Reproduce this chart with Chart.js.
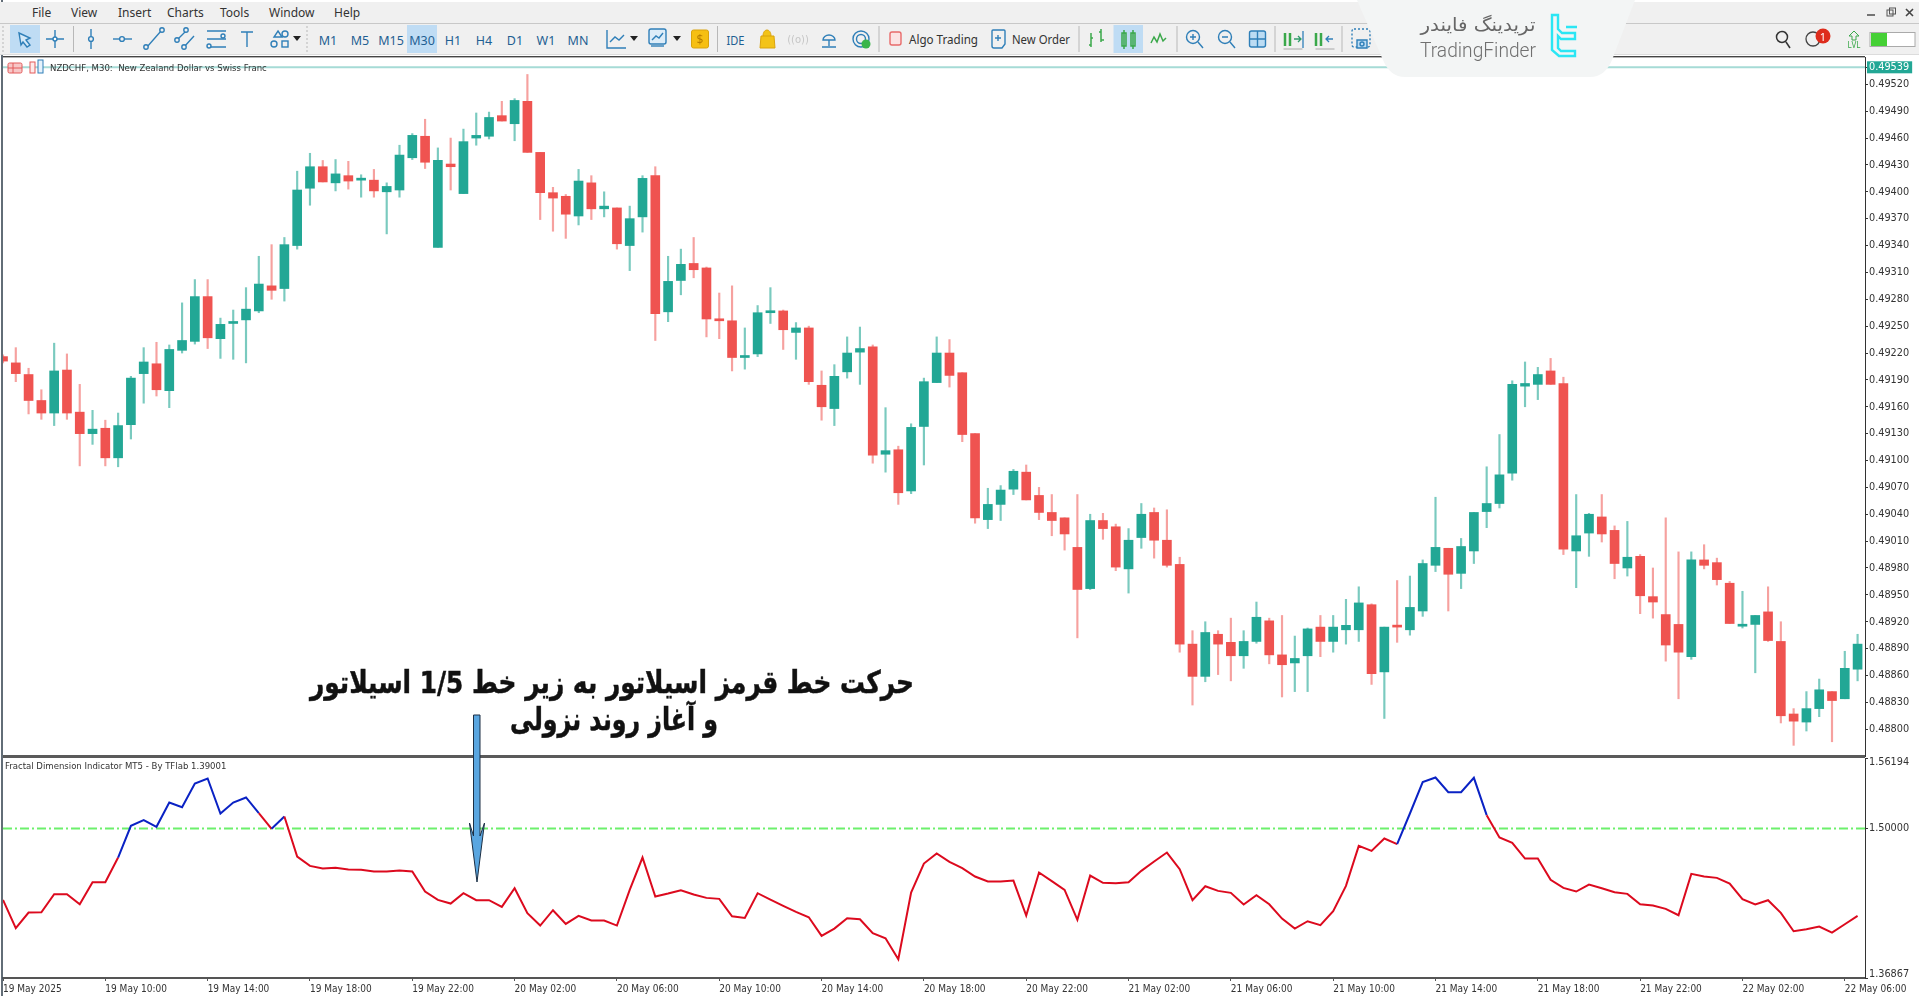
<!DOCTYPE html>
<html><head><meta charset="utf-8"><title>NZDCHF M30</title>
<script src="https://cdn.jsdelivr.net/npm/chart.js@4/dist/chart.umd.js"></script>
<style>
html,body{margin:0;padding:0;background:#fff;width:1919px;height:996px;overflow:hidden}
canvas{position:absolute;left:0}
svg{position:absolute;left:0;top:0}
.t{position:absolute;white-space:pre;font-family:"DejaVu Sans Condensed","DejaVu Sans";font-size:9.5px;color:#333}
</style></head><body>
<canvas id="price" width="1919" height="712" style="top:51px"></canvas>
<canvas id="osc" width="1919" height="251" style="top:746px"></canvas>
<div style="position:absolute;top:0;height:996px;background:#46545f;opacity:.85;left:1px;width:2px"></div>
<div style="position:absolute;left:3px;top:755px;width:1862px;height:3px;background:#5a5a5a"></div>
<div class="t" style="left:5px;top:760px">Fractal Dimension Indicator MT5 - By TFlab 1.39001</div>
<div class="t" style="left:50px;top:62px">NZDCHF, M30:  New Zealand Dollar vs Swiss Franc</div>
<svg width="1919" height="996" viewBox="0 0 1919 996" xmlns="http://www.w3.org/2000/svg">
 <!-- window chrome -->
 <rect x="0" y="2" width="1919" height="52" fill="#f0f0f0"/>
 <rect x="0" y="23" width="1919" height="1" fill="#c8c8c8"/>
 <rect x="0" y="54" width="1919" height="1" fill="#dcdcdc"/>
 <rect x="3" y="56" width="1862" height="1.4" fill="#444"/>
 <rect x="10" y="25" width="30" height="28" fill="#bfdcf4"/>
 <rect x="407" y="25" width="30" height="28" fill="#bfdcf4"/>
 <rect x="1113.5" y="25" width="29.5" height="28" fill="#bfdcf4"/>
 <g font-family="Noto Sans" font-size="12" fill="#333">
  <text x="32" y="17">File</text><text x="71" y="17">View</text><text x="118" y="17">Insert</text><text x="167" y="17">Charts</text><text x="220" y="17">Tools</text><text x="269" y="17">Window</text><text x="334" y="17">Help</text>
 </g>
 <g font-family="Noto Sans" font-size="12.5" fill="#1f5f92" text-anchor="middle">
  <text x="328" y="45">M1</text><text x="360" y="45">M5</text><text x="391" y="45">M15</text><text x="422" y="45">M30</text><text x="453" y="45">H1</text><text x="484" y="45">H4</text><text x="515" y="45">D1</text><text x="546" y="45">W1</text><text x="578" y="45">MN</text>
  <text x="735.5" y="45" font-size="13" textLength="18" lengthAdjust="spacingAndGlyphs">IDE</text>
 </g>
 <g font-family="Noto Sans" font-size="12" fill="#333">
  <text x="909" y="44" textLength="69" lengthAdjust="spacingAndGlyphs">Algo Trading</text>
  <text x="1012" y="44" textLength="58" lengthAdjust="spacingAndGlyphs">New Order</text>
 </g>
 <g stroke="#b8b8b8" stroke-width="1" fill="none">
  <path d="M73.5 26V52M717.5 26V52M879 26V52M1079 26V52M1177 26V52M1275 26V52M1342 26V52"/>
  <path d="M307 26V52M3 26V52" stroke-dasharray="2 2"/>
 </g>
 <!-- drawing tool icons -->
 <g stroke="#2f7fb8" stroke-width="1.4" fill="none">
  <path d="M19 33l11 5-4 2 4 5-3 2-4-5-2 3z" fill="#d4e8f7"/>
  <path d="M55 30V48M46 39H64"/><circle cx="55" cy="39" r="2" fill="#fff"/>
  <path d="M91 29V49"/><circle cx="91" cy="39" r="2.4" fill="#f0f0f0"/>
  <path d="M113 39H132"/><circle cx="122" cy="39" r="2.4" fill="#f0f0f0"/>
  <path d="M147 47L161 31"/><circle cx="146" cy="47" r="2.2" fill="#f0f0f0"/><circle cx="162" cy="30" r="2.2" fill="#f0f0f0"/>
  <path d="M178 39L187 30M184 47L194 36"/><circle cx="177" cy="40" r="2.2" fill="#f0f0f0"/><circle cx="186" cy="30" r="2.2" fill="#f0f0f0"/><circle cx="184" cy="47" r="2.2" fill="#f0f0f0"/>
  <path d="M207 31H226M207 39H226M207 47H226"/><circle cx="223" cy="36" r="2" fill="#f0f0f0"/><circle cx="209" cy="46" r="2" fill="#f0f0f0"/>
  <path d="M241 32H253M247 32V47"/>
  <path d="M278 31l4 6h-8z"/><circle cx="285" cy="34" r="3"/><circle cx="274" cy="44" r="3"/><rect x="282" y="41" width="6" height="6"/>
 </g>
 <path d="M293 36h8l-4 5z" fill="#222"/>
 <!-- chart-type and other toolbar icons -->
 <g stroke="#2f7fb8" stroke-width="1.4" fill="none">
  <path d="M607 30V48H626"/><path d="M610 42l5-5 4 3 5-5" />
  <rect x="649" y="29" width="17" height="15" rx="2" fill="#dcecf8"/><path d="M652 40l4-4 3 2 4-5"/><path d="M651 46h13"/>
  <path d="M823 40a6 5 0 0 1 12 0h-12zM829 40v6M822 47h14"/>
  <circle cx="861" cy="39" r="8"/><circle cx="861" cy="39" r="4.5"/>
  <path d="M998 30h-5a1 1 0 0 0-1 1v15a2 2 0 0 0 2 2h8l3-4V31a1 1 0 0 0-1-1zM998 35v6M995 38h6"/>
  <circle cx="1193" cy="37" r="6.5"/><path d="M1198 42l5 6M1190 37h6M1193 34v6"/>
  <circle cx="1225" cy="37" r="6.5"/><path d="M1230 42l5 6M1222 37h6"/>
  <rect x="1249.5" y="31" width="16" height="16" rx="2" fill="#bcdcf3"/><path d="M1257.5 31v16M1249.5 39h16"/>
  <rect x="1352" y="29" width="18" height="18" rx="2" stroke-dasharray="2 2"/><path d="M1357 40h10v8h-10z" fill="#bcdcf3"/><circle cx="1362" cy="44" r="2"/>
 </g>
 <g fill="none" stroke="#3aa84a" stroke-width="1.5">
  <path d="M1091 33v14M1089 45h2M1091 38h2M1101 29v13M1099 32h2M1101 40h3"/>
  <rect x="1122" y="33" width="4" height="13"/><rect x="1131" y="33" width="4" height="13"/><path d="M1124 30v19M1133 30v19"/>
  <path d="M1151 43l3-6 3 5 3-8 3 7 3-3"/>
 </g>
 <g fill="#3aa84a" stroke="#3aa84a"><path d="M1285 33v13M1290 33v13M1316 33v13M1321 33v13" stroke-width="2.5"/></g>
 <path d="M1283.5 52h19M1315.5 52h19" stroke="#c0c0c0" stroke-width="1.4" transform="translate(0 -3)"/>
 <path d="M1294 39h7M1298 36l3 3-3 3" stroke="#2f9a6a" fill="none" stroke-width="1.3"/><path d="M1303 31v17" stroke="#2f7fb8" stroke-width="1.3"/>
 <path d="M1333 39h-7M1329 36l-3 3 3 3" stroke="#2f7fb8" fill="none" stroke-width="1.3"/>
 <rect x="691.5" y="30" width="17" height="18" rx="2" fill="#f6bf12" stroke="#d9a30d"/>
 <text x="700" y="44" font-family="Noto Sans" font-size="12" fill="#b87f00" text-anchor="middle">$</text>
 <path d="M673 36h8l-4 5z" fill="#222"/><path d="M630 36h8l-4 5z" fill="#222"/>
 <path d="M761 36h13l1 12h-15zM763 36c0-8 8-8 8 0" fill="#f3c318" stroke="#d9a30d"/>
 <text x="798" y="43" font-family="DejaVu Sans" font-size="10" fill="#c6c6c6" text-anchor="middle">((o))</text>
 <circle cx="866" cy="44" r="4.5" fill="#39b54a"/>
 <rect x="890" y="32" width="11" height="13" rx="2" fill="#fbe3e3" stroke="#e86a6a" stroke-width="1.4"/>
 <!-- logo panel -->
 <path d="M1357 0H1635L1612 60Q1605 77 1590 77H1405Q1390 77 1383 60Z" fill="#f3f5f5"/>
 <text x="1478" y="31" direction="rtl" text-anchor="middle" font-family="DejaVu Sans" font-size="18" fill="#666" textLength="115" lengthAdjust="spacingAndGlyphs">تریدینگ فایندر</text>
 <text x="1420" y="57" font-family="Roboto" font-weight="300" font-size="21" fill="#707070" textLength="116" lengthAdjust="spacingAndGlyphs">TradingFinder</text>
 <path d="M1552 15h6v14l4 4h13v6h-14l-3-3v12l3 3h14v5h-16l-7-6zM1566 27h11" fill="none" stroke="#2be6f4" stroke-width="2.4"/>
 <!-- right-side tools -->
 <circle cx="1782" cy="37" r="5.5" fill="none" stroke="#333" stroke-width="1.5"/><path d="M1786 42l4 6" stroke="#333" stroke-width="1.5"/>
 <circle cx="1813" cy="39" r="7" fill="none" stroke="#444" stroke-width="1.3"/>
 <circle cx="1823" cy="36" r="7.5" fill="#de2c1c"/>
 <text x="1823" y="40.5" font-family="Noto Sans" font-size="11" fill="#fff" text-anchor="middle">1</text>
 <path d="M1854 31l5 5h-3v4h-4v-4h-3z" fill="none" stroke="#3aa84a"/>
 <text x="1854" y="48" font-family="Noto Sans" font-size="8" fill="#3aa84a" text-anchor="middle">LVL</text>
 <rect x="1870" y="32.5" width="45" height="14" fill="#fff" stroke="#aaa"/>
 <rect x="1871" y="33" width="16" height="13" fill="#45d035"/>
 <path d="M1867 15h8" stroke="#555" stroke-width="1.6"/>
 <rect x="1887" y="10" width="6" height="6" fill="none" stroke="#555"/><rect x="1889.5" y="8" width="6" height="6" fill="none" stroke="#555"/>
 <path d="M1906 9l7 7M1913 9l-7 7" stroke="#444" stroke-width="1.6"/>
 <!-- chart title icons -->
 <rect x="8" y="63" width="14" height="10" rx="1.5" fill="#f7c7c7" stroke="#e25b5b"/><path d="M8 68h14M13 63v10" stroke="#e25b5b"/>
 <rect x="30" y="62" width="5" height="11" fill="#fdeaea" stroke="#e25b5b"/><rect x="38" y="60" width="5" height="13" fill="#e6f2fb" stroke="#2f7fb8"/>
 <!-- annotation -->
 <g font-family="DejaVu Sans" font-weight="bold" fill="#111" stroke="#111" stroke-width=".5" text-anchor="middle" direction="rtl">
  <text x="612" y="693" font-size="31" textLength="604" lengthAdjust="spacingAndGlyphs">حرکت خط قرمز اسیلاتور  به زیر خط 1/5 اسیلاتور</text>
  <text x="614" y="730" font-size="31" textLength="208" lengthAdjust="spacingAndGlyphs">و آغاز روند نزولی</text>
 </g>
 <path d="M473.5 715H480V836L484.5 823 477 882 469.5 823 473.5 836Z" fill="#5aa6e0" stroke="#1c2f44" stroke-width="1"/>
</svg>
<script>
const bidPrice = 0.49539;
const priceTicks = [0.49539,0.4952,0.4949,0.4946,0.4943,0.494,0.4937,0.4934,0.4931,0.4928,0.4925,0.4922,0.4919,0.4916,0.4913,0.491,0.4907,0.4904,0.4901,0.4898,0.4895,0.4892,0.4889,0.4886,0.4883,0.488];
const fractalTicks = [1.56194,1.5,1.36867];
const fractalLevel = 1.5;
const timeLabels = ["19 May 2025","19 May 10:00","19 May 14:00","19 May 18:00","19 May 22:00","20 May 02:00","20 May 06:00","20 May 10:00","20 May 14:00","20 May 18:00","20 May 22:00","21 May 02:00","21 May 06:00","21 May 10:00","21 May 14:00","21 May 18:00","21 May 22:00","22 May 02:00","22 May 06:00"];
const barsPerLabel = 8;
const lastSlot = 145.58;
const opens = [49216,49209,49196,49167,49153,49201,49154,49130,49136,49103,49140,49197,49208,49178,49223,49233,49283,49236,49253,49257,
49267,49295,49292,49340,49404,49428,49410,49418,49413,49413,49400,49402,49438,49462,49338,49431,49398,49460,49462,49485,
49476,49501,49444,49399,49395,49373,49410,49381,49382,49340,49372,49418,49266,49301,49320,49315,49258,49256,49215,49219,
49265,49267,49243,49248,49184,49158,49199,49221,49227,49107,49112,49066,49138,49187,49220,49198,49130,49034,49051,49068,
49087,49061,49042,49036,49003,48957,49033,49026,48979,49014,49042,49011,48984,48895,48859,48906,48897,48882,48898,48921,
48883,48874,48882,48914,48898,48911,48911,48939,48864,48916,48911,48932,48983,49002,48974,48999,49043,49052,49086,49183,
49185,49200,49186,48999,49019,49037,49022,48980,48993,48948,48928,48917,48881,48989,48986,48963,48915,48917,48931,48898,
48817,48808,48823,48842,48834,48867];
const highs = [49218,49226,49203,49179,49231,49219,49185,49156,49145,49153,49194,49226,49232,49229,49276,49302,49302,49259,49268,49293,
49328,49341,49349,49423,49443,49435,49436,49434,49419,49425,49410,49452,49465,49481,49449,49460,49470,49488,49489,49501,
49504,49531,49444,49405,49397,49425,49418,49400,49382,49384,49418,49428,49328,49336,49349,49316,49287,49295,49248,49273,
49293,49268,49254,49250,49200,49207,49238,49249,49229,49159,49116,49141,49192,49238,49235,49198,49130,49069,49072,49090,
49095,49070,49062,49036,49062,49040,49041,49029,49024,49052,49047,49045,48992,48910,48920,48910,48924,48910,48942,48924,
48927,48904,48913,48927,48927,48945,48959,48940,48914,48966,48971,48989,49059,49002,49013,49042,49093,49129,49189,49210,
49204,49214,49193,49062,49041,49062,49027,49032,48995,48980,49036,48998,48998,49006,48991,48965,48954,48927,48959,48920,
48823,48842,48856,48842,48887,48906];
const lows = [49209,49188,49152,49146,49139,49146,49094,49118,49094,49093,49124,49164,49172,49159,49220,49230,49225,49214,49213,49209,
49265,49280,49278,49336,49385,49411,49401,49403,49394,49394,49353,49394,49436,49426,49338,49402,49398,49452,49459,49479,
49457,49444,49369,49356,49348,49363,49369,49372,49336,49312,49355,49234,49255,49285,49304,49238,49236,49200,49202,49216,
49253,49224,49213,49185,49145,49139,49192,49185,49097,49087,49051,49063,49095,49187,49182,49121,49030,49024,49033,49062,
49056,49034,49016,49000,48902,48956,49012,48977,48952,49002,48991,48981,48886,48827,48853,48861,48854,48868,48896,48873,
48836,48842,48842,48881,48886,48895,48898,48850,48812,48897,48905,48926,48976,48932,48957,48985,49025,49047,49078,49160,
49168,49185,48995,48958,48993,49009,48968,48971,48929,48924,48876,48834,48878,48979,48961,48918,48913,48863,48898,48807,
48782,48798,48814,48786,48834,48854];
const closes = [49211,49197,49167,49153,49200,49153,49130,49135,49103,49139,49192,49210,49179,49224,49234,49283,49237,49252,49255,49269,
49297,49290,49341,49402,49428,49411,49420,49412,49415,49401,49406,49441,49463,49433,49435,49428,49456,49463,49483,49479,
49502,49444,49399,49393,49375,49412,49381,49384,49342,49370,49415,49264,49300,49319,49313,49258,49256,49215,49217,49265,
49266,49246,49248,49188,49160,49194,49220,49225,49106,49111,49064,49137,49188,49220,49195,49129,49036,49051,49067,49088,
49056,49042,49033,49018,48956,49033,49024,48981,49011,49040,49011,48983,48895,48859,48908,48895,48882,48898,48925,48883,
48872,48879,48912,48898,48914,48916,48941,48862,48914,48914,48936,48985,49003,48973,49004,49042,49052,49084,49185,49186,
49196,49185,49001,49016,49040,49018,48985,48992,48949,48942,48894,48886,48989,48983,48967,48918,48917,48927,48899,48815,
48809,48823,48844,48832,48868,48895];
const fractal = [1.4373,1.41239,1.42616,1.42646,1.44228,1.44228,1.43349,1.45283,1.45283,1.47451,1.50234,1.50733,1.50147,1.52285,1.51875,1.53956,1.54395,1.51319,1.52285,1.52725,
1.51348,1.49971,1.51055,1.47539,1.46718,1.46484,1.46543,1.46396,1.46367,1.4622,1.4622,1.46308,1.4622,1.44462,1.4373,1.43407,1.44316,1.437,1.437,1.43114,
1.44755,1.42558,1.41474,1.42821,1.4162,1.42323,1.41913,1.41913,1.41474,1.44609,1.47451,1.44023,1.44286,1.44579,1.44199,1.43906,1.43818,1.42294,1.42148,1.44316,
1.43759,1.43202,1.42675,1.42206,1.40565,1.4121,1.42118,1.4203,1.408,1.4036,1.38514,1.44374,1.46923,1.47802,1.4707,1.46513,1.45781,1.45341,1.45341,1.45429,
1.42353,1.46132,1.45371,1.44609,1.41972,1.45869,1.45224,1.45195,1.45283,1.46279,1.47099,1.4789,1.46425,1.437,1.44931,1.44521,1.44345,1.4332,1.4414,1.43349,
1.42089,1.4121,1.41855,1.41503,1.42734,1.4496,1.48476,1.48037,1.49121,1.48623,1.51319,1.54073,1.54483,1.53194,1.53194,1.54454,1.51172,1.49209,1.4874,1.47363,
1.47363,1.45488,1.44785,1.44462,1.45078,1.44755,1.44404,1.44257,1.43349,1.43232,1.42939,1.42382,1.46015,1.45781,1.45664,1.45165,1.43788,1.4332,1.437,1.42587,
1.40976,1.41151,1.41386,1.40858,1.41591,1.42323];
const blueSegments = [9,10,11,12,13,14,15,16,17,18,19,21,109,110,111,112,113,114,115];

const GREEN='#22a795', RED='#ef5350', GREEN_W='rgba(34,167,149,.6)', RED_W='rgba(239,83,80,.55)';
const AXIS_FAMILY='"DejaVu Sans Condensed","DejaVu Sans"';
const Y_FONT={family:AXIS_FAMILY,size:10.8,lineHeight:'8px'};
const X_FONT={family:AXIS_FAMILY,size:10,lineHeight:'10px'};
const px=v=>v/100000;
const isUp=i=>closes[i]>=opens[i];
const xScaleBase={type:'linear',min:0,max:lastSlot,offset:false,grid:{offset:false}};
const rightWidth=s=>{s.width=54};

new Chart(document.getElementById('price'),{
 type:'bar',
 data:{datasets:[
  {type:'line',order:3,data:[{x:0,y:bidPrice},{x:lastSlot,y:bidPrice}],borderColor:'#a6dbd6',borderWidth:2,pointRadius:0},
  {order:2,data:opens.map((_,i)=>({x:i,y:[px(lows[i]),px(highs[i])]})),barThickness:1.5,grouped:false,
   backgroundColor:c=>isUp(c.dataIndex)?GREEN_W:RED_W},
  {order:1,data:opens.map((_,i)=>({x:i,y:[px(Math.min(opens[i],closes[i])),px(Math.max(opens[i],closes[i]))]})),barThickness:9,grouped:false,minBarLength:2,
   backgroundColor:c=>isUp(c.dataIndex)?GREEN:RED}
 ]},
 options:{responsive:false,animation:false,devicePixelRatio:1,
  layout:{autoPadding:false,padding:{left:3,top:6,bottom:7,right:0}},
  plugins:{legend:{display:false},tooltip:{enabled:false}},
  scales:{
   x:{...xScaleBase,display:false},
   y:{position:'right',min:0.487701,max:0.495505,afterFit:rightWidth,
    afterBuildTicks:s=>{s.ticks=priceTicks.map(v=>({value:v}))},
    border:{color:'#333',width:1},
    grid:{drawOnChartArea:false,tickLength:3,color:'#333'},
    ticks:{autoSkip:false,crossAlign:'near',padding:1,font:Y_FONT,
     callback:v=>v.toFixed(5),
     color:c=>c.tick.value===bidPrice?'#fff':'#333',
     showLabelBackdrop:c=>c.tick.value===bidPrice,
     backdropColor:'#22a795',backdropPadding:{top:2,bottom:2,left:2,right:3}}}
  }}
});

new Chart(document.getElementById('osc'),{
 type:'line',
 data:{datasets:[
  {order:2,data:[{x:0,y:fractalLevel},{x:lastSlot,y:fractalLevel}],borderColor:'#6cf06c',borderWidth:2,borderDash:[9,3,2,3],pointRadius:0},
  {order:1,data:fractal.map((v,i)=>({x:i,y:v})),borderColor:'#dc0a1e',borderWidth:2,pointRadius:0,tension:0,
   segment:{borderColor:c=>blueSegments.includes(c.p0DataIndex)?'#0a22c4':undefined}}
 ]},
 options:{responsive:false,animation:false,devicePixelRatio:1,
  layout:{autoPadding:false,padding:{left:3,top:12,bottom:0,right:0}},
  plugins:{legend:{display:false},tooltip:{enabled:false}},
  scales:{
   x:{...xScaleBase,afterFit:s=>{s.height=19},
    border:{color:'#555',width:2},
    grid:{drawOnChartArea:false,tickLength:3,color:'#555'},
    ticks:{stepSize:barsPerLabel,includeBounds:false,autoSkip:false,maxRotation:0,align:'start',padding:3,color:'#333',font:X_FONT,
     callback:v=>timeLabels[v/barsPerLabel]}},
   y:{position:'right',min:fractalTicks[2],max:fractalTicks[0],afterFit:rightWidth,
    afterBuildTicks:s=>{s.ticks=fractalTicks.map(v=>({value:v}))},
    border:{color:'#333',width:1},
    grid:{drawOnChartArea:false,tickLength:3,color:'#333'},
    ticks:{autoSkip:false,crossAlign:'near',padding:1,color:'#333',font:Y_FONT,
     callback:v=>{const s=v.toFixed(5);return v===fractalTicks[0]?['',s]:v===fractalTicks[2]?[s,'']:s}}}
  }}
});
</script>
</body></html>
